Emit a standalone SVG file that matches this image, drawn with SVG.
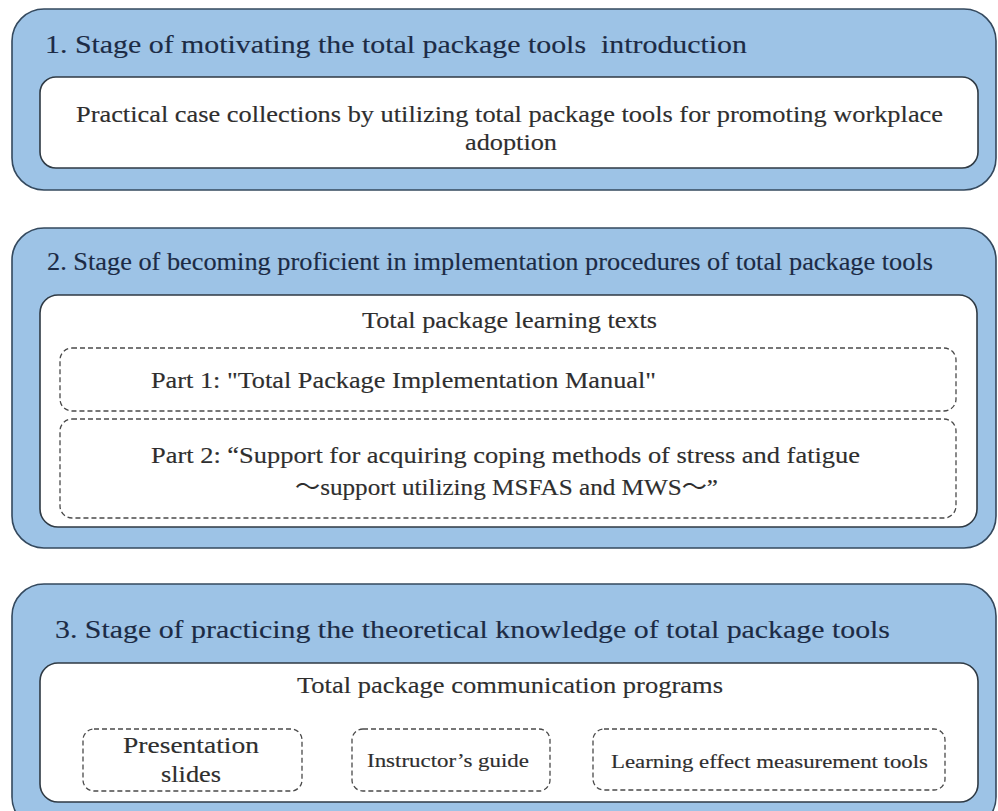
<svg xmlns="http://www.w3.org/2000/svg" width="998" height="811" viewBox="0 0 998 811">
  <style>
    .stage { fill: #9dc3e6; stroke: #34495e; stroke-width: 1.6; }
    .panel { fill: #ffffff; stroke: #2f3a44; stroke-width: 1.6; }
    .part  { fill: none; stroke: #4a4a4a; stroke-width: 1.3; stroke-dasharray: 5 3; }
    text { font-family: "Liberation Serif", "Noto Sans CJK JP", serif; stroke-width: 0.15; }
    .title { font-size: 26px; fill: #1c2b45; stroke: #1c2b45; }
    .body  { font-size: 24px; fill: #2e2e2e; stroke: #2e2e2e; }
    .small { font-size: 18.5px; fill: #2e2e2e; stroke: #2e2e2e; }
  </style>
  <rect width="998" height="811" fill="#ffffff"/>

  <!-- Stage 1 -->
  <g id="stage1">
    <rect class="stage" x="12" y="9" width="984" height="181" rx="32"/>
    <text class="title" x="45" y="53" textLength="702" lengthAdjust="spacingAndGlyphs" xml:space="preserve">1. Stage of motivating the total package tools  introduction</text>
    <g id="case-collections">
      <rect class="panel" x="40" y="77" width="938" height="91" rx="16"/>
      <text class="body" x="76" y="122" textLength="867" lengthAdjust="spacingAndGlyphs">Practical case collections by utilizing total package tools for promoting workplace</text>
      <text class="body" x="465" y="150" textLength="92" lengthAdjust="spacingAndGlyphs">adoption</text>
    </g>
  </g>

  <!-- Stage 2 -->
  <g id="stage2">
    <rect class="stage" x="12" y="228" width="984" height="320" rx="32"/>
    <text class="title" x="47" y="270" textLength="886" lengthAdjust="spacingAndGlyphs">2. Stage of becoming proficient in implementation procedures of total package tools</text>
    <g id="learning-texts">
      <rect class="panel" x="40" y="295" width="937" height="232" rx="18"/>
      <text class="body" x="362" y="328" textLength="295" lengthAdjust="spacingAndGlyphs">Total package learning texts</text>
      <g id="part1">
        <rect class="part" x="60" y="348" width="896" height="63" rx="12"/>
        <text class="body" x="151" y="388" textLength="505" lengthAdjust="spacingAndGlyphs">Part 1: "Total Package Implementation Manual"</text>
      </g>
      <g id="part2">
        <rect class="part" x="60" y="419" width="896" height="99" rx="12"/>
        <text class="body" x="151" y="463" textLength="709" lengthAdjust="spacingAndGlyphs">Part 2: “Support for acquiring coping methods of stress and fatigue</text>
        <text class="body" x="295" y="495" textLength="423" lengthAdjust="spacingAndGlyphs">〜support utilizing MSFAS and MWS〜”</text>
      </g>
    </g>
  </g>

  <!-- Stage 3 -->
  <g id="stage3">
    <rect class="stage" x="12" y="584" width="984" height="245" rx="32"/>
    <text class="title" x="55" y="638" textLength="835" lengthAdjust="spacingAndGlyphs">3. Stage of practicing the theoretical knowledge of total package tools</text>
    <g id="communication-programs">
      <rect class="panel" x="40" y="663" width="938" height="139" rx="18"/>
      <text class="body" x="297" y="693" textLength="426" lengthAdjust="spacingAndGlyphs">Total package communication programs</text>
      <g id="slides">
        <rect class="part" x="83" y="729" width="219" height="62" rx="11"/>
        <text class="body" x="123" y="753" textLength="136" lengthAdjust="spacingAndGlyphs">Presentation</text>
        <text class="body" x="161" y="782" textLength="60" lengthAdjust="spacingAndGlyphs">slides</text>
      </g>
      <g id="guide">
        <rect class="part" x="352" y="729" width="198" height="62" rx="11"/>
        <text class="small" x="367" y="767" textLength="162" lengthAdjust="spacingAndGlyphs">Instructor’s guide</text>
      </g>
      <g id="measurement">
        <rect class="part" x="593" y="729" width="352" height="61" rx="11"/>
        <text class="small" x="611" y="768" textLength="317" lengthAdjust="spacingAndGlyphs">Learning effect measurement tools</text>
      </g>
    </g>
  </g>

  <g id="connectors"/>
</svg>
